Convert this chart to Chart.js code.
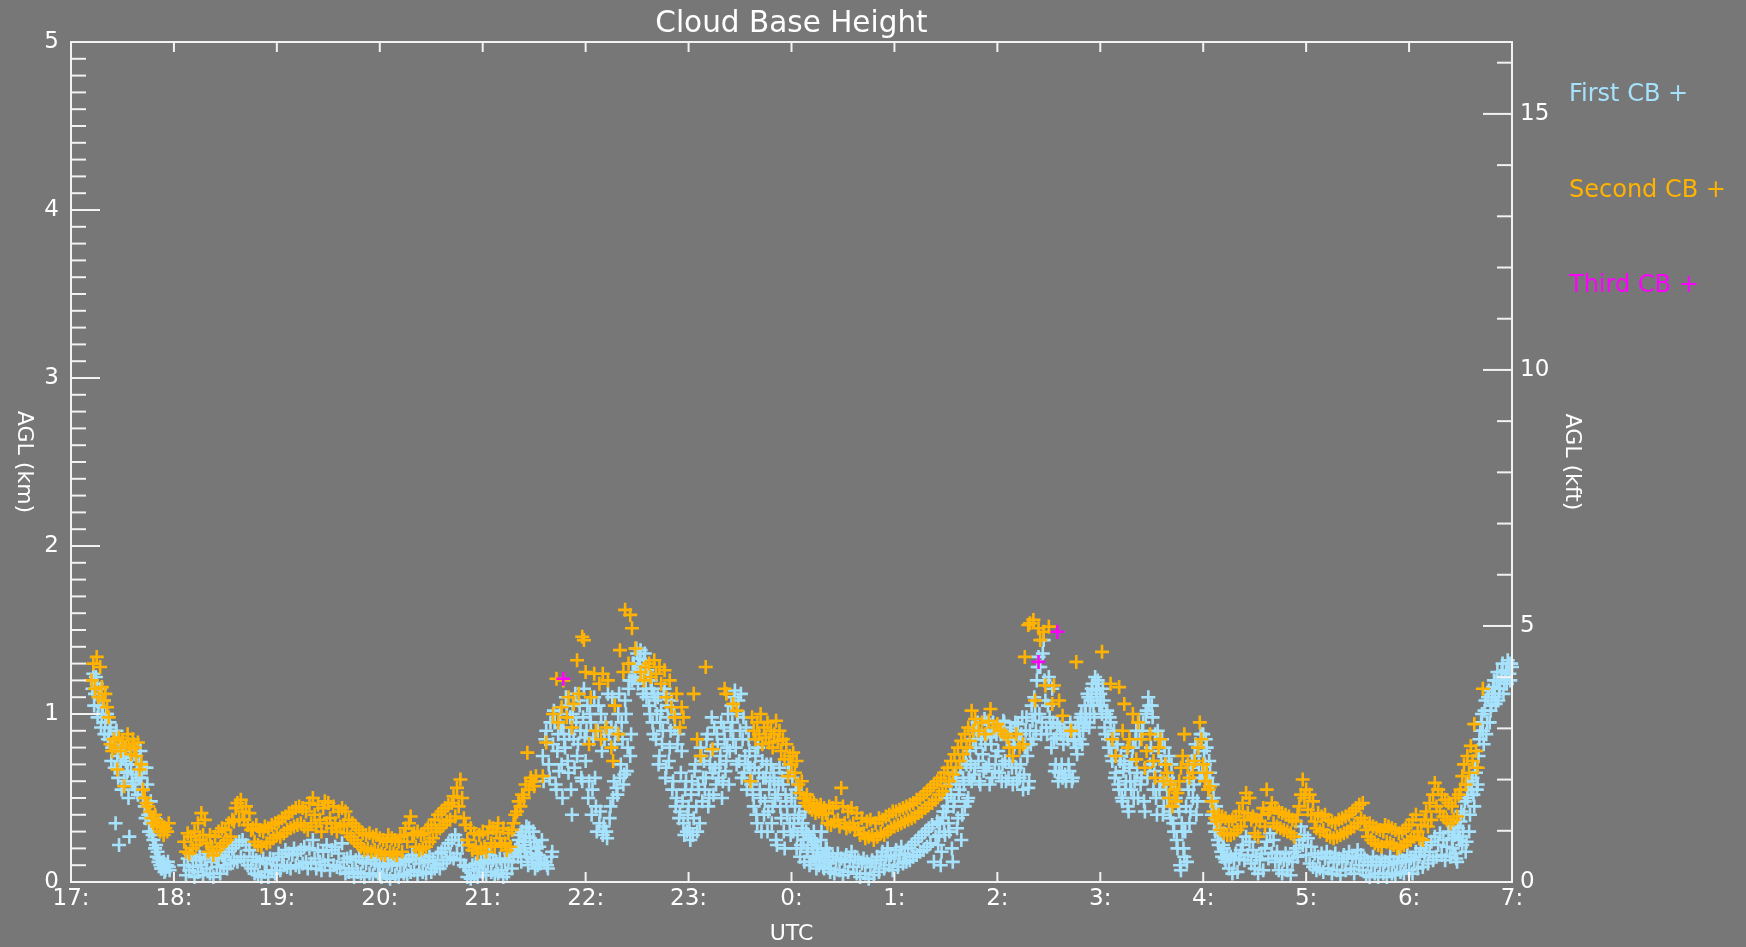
<!DOCTYPE html>
<html>
<head>
<meta charset="utf-8">
<title>Cloud Base Height</title>
<script src="https://cdn.jsdelivr.net/npm/chart.js@4.4.1/dist/chart.umd.min.js"></script>
<style>
    html, body { margin: 0; padding: 0; background: #777777; }
    canvas { display: block; }
</style>
</head>
<body>
<canvas id="cbh" width="1746" height="947"></canvas>
<script>
// -------------------------------------------
//  DATA
// -------------------------------------------

var _ = null

// one sample per minute, starting 17:00 UTC and ending 07:00 UTC
var startHour = 17

var hourLabels = ["17:","18:","19:","20:","21:","22:","23:","0:","1:","2:","3:","4:","5:","6:","7:"]
var kftLabels = [0, 5, 10, 15]

// first cloud base (km) on the minute, one line per hour
var firstCB = [
    _,_,_,_,_,_,_,_,_,_,_,_,1.2,1.24,1.12,1.18,1.05,1.15,1,1.08,.95,1,.88,.92,.8,.85,.35,.75,.22,.7,.78,.6,.72,.66,.27,.7,.58,.76,.64,.52,.7,.62,.5,.45,.68,.4,.35,.3,.25,.2,.15,.12,.1,.08,.12,.07,.1,.09,_,_,
    _,_,_,_,_,_,.1,.04,.14,.07,.16,.09,.03,.13,.06,.15,.1,.04,.14,.08,.17,.05,.12,.03,.15,.09,.14,.05,.16,.1,.15,.08,.18,.11,.2,.13,.22,.12,.24,.15,.25,.13,.22,.1,.19,.08,.15,.05,.13,.04,.12,.03,.14,.06,.11,.03,.14,.07,.13,.05,
    .1,.17,.07,.15,.1,.19,.09,.17,.08,.16,.2,.1,.17,.09,.19,.11,.21,.12,.08,.2,.11,.25,.14,.08,.19,.12,.07,.18,.1,.22,.13,.07,.19,.1,.21,.09,.17,.08,.23,.12,.05,.14,.06,.15,.08,.03,.13,.06,.15,.05,.12,.03,.11,.15,.05,.13,.04,.11,.14,.05,
    .1,.03,.09,.14,.04,.11,.02,.1,.13,.04,.11,.03,.1,.14,.05,.12,.04,.13,.06,.16,.07,.14,.04,.11,.16,.06,.13,.05,.12,.15,.06,.13,.08,.1,.17,.08,.18,.11,.2,.13,.23,.15,.25,.14,.28,.17,.25,.13,.22,.1,.09,.03,.07,.02,.1,.04,.11,.03,.08,.12,
    .06,.13,.04,.11,.16,.06,.13,.04,.12,.05,.14,.07,.03,.12,.05,.13,.17,.08,.15,.19,.2,.25,.18,.3,.22,.27,.15,.32,.2,.12,.24,.17,.1,.21,.14,.75,.12,.9,.08,.62,.15,.82,.95,.55,.88,1,.7,.92,.8,1.05,.65,.98,.4,.85,1.12,.75,1.08,.9,.6,1.15,
    .72,1.05,.6,.95,.55,1.1,.45,.9,.35,1,.28,.85,.3,1.12,.38,.92,.5,.82,.56,1,.62,.95,.58,1.08,.66,1.15,.75,1.2,1.3,1.25,1.36,1.28,1.38,1.22,1.32,1.15,1.26,1.05,1.2,.95,1.12,.85,1.1,.75,1.02,.9,1.15,.68,.98,.8,1.08,.6,.92,.5,.88,.42,.78,.35,.55,.3,
    .45,.25,.6,.38,.7,.3,.55,.8,.48,.72,.62,.88,.5,.78,.65,.92,.58,.82,.7,.95,.6,.85,.72,1,.78,1.05,.85,1.14,.7,1.08,.9,.62,.98,.75,.55,.85,.68,.6,.45,.75,.35,.65,.5,.72,.4,.62,.3,.55,.7,.45,.6,.25,.52,.68,.38,.58,.2,.48,.65,.35,
    .5,.3,.45,.2,.38,.15,.32,.25,.42,.18,.28,.12,.22,.3,.14,.2,.1,.25,.16,.08,.2,.12,.17,.08,.15,.05,.13,.17,.07,.14,.04,.12,.16,.06,.13,.18,.09,.15,.05,.13,.03,.11,.14,.05,.12,.02,.09,.13,.04,.11,.15,.06,.13,.18,.08,.15,.2,.1,.16,.07,
    .14,.19,.09,.16,.21,.11,.17,.12,.2,.13,.22,.15,.24,.16,.26,.18,.28,.19,.3,.21,.32,.23,.34,.12,.27,.36,.28,.1,.38,.3,.42,.45,.3,.52,.12,.48,.6,.38,.55,.25,.62,.45,.7,.5,.78,.6,.85,.68,.9,.72,.58,.88,.66,.82,.95,.7,.86,.62,.9,.75,
    .92,.65,.88,.7,.95,.6,.85,.72,.9,.58,.82,.68,.94,.62,.88,.55,.8,.98,.56,.9,1.05,.85,1,1.2,1.34,1.28,.95,1.44,1.08,.88,1.22,.92,1.15,.85,.7,.94,.65,.88,.62,.9,.6,.85,.66,.92,.62,.88,.8,.95,.85,1,.9,1.05,.95,1.1,1,1.15,1.05,1.22,1.1,1.18,
    1.12,1,1.08,.88,1.02,.8,.95,.72,.9,.65,.82,.55,.75,.48,.7,.6,.45,.68,.55,.8,.6,.9,.5,.85,.62,.95,.42,1.02,1.1,.7,1.05,.55,.88,.4,.78,.6,.85,.45,.7,.5,.75,.38,.6,.3,.5,.2,.42,.07,.3,.15,.45,.6,.35,.68,.5,.75,.4,.8,.62,.85,
    .88,.7,.8,.55,.65,.4,.5,.3,.38,.22,.28,.15,.2,.12,.16,.08,.15,.05,.13,.17,.06,.14,.19,.22,.13,.27,.16,.24,.11,.19,.08,.15,.05,.13,.17,.07,.2,.24,.14,.29,.17,.25,.12,.18,.07,.14,.05,.13,.17,.07,.14,.04,.12,.18,.2,.15,.25,.33,.22,.28,
    .16,.26,.11,.21,.09,.17,.07,.15,.08,.17,.06,.14,.18,.08,.15,.05,.12,.17,.07,.14,.04,.12,.16,.07,.14,.18,.08,.15,.05,.14,.19,.1,.16,.07,.14,.04,.12,.03,.1,.15,.05,.12,.03,.1,.14,.05,.12,.03,.1,.15,.05,.12,.04,.11,.15,.06,.13,.05,.12,.16,
    .07,.14,.05,.13,.18,.08,.15,.2,.09,.16,.22,.11,.18,.24,.13,.27,.15,.22,.29,.16,.25,.13,.21,.3,.15,.26,.33,.17,.12,.27,.36,.22,.4,.18,.5,.3,.55,.62,.45,.65,.58,.85,.95,.9,1.02,.88,1.1,.95,1.05,1.16,1.1,1.2,1.08,1.15,1.25,1.12,1.22,1.18,1.3,1.2,1.28
]

// extra first cloud base readings half a minute later, where the base is broken
var firstCBHalf = [
    _,_,_,_,_,_,_,_,_,_,_,_,1.15,1.05,1.22,.98,1.1,.92,1.04,.88,1,.85,.95,.72,.82,.68,.9,.62,.8,.55,.74,.8,.65,.5,.75,.6,.82,.55,.7,.62,.78,.55,.68,.38,.58,.3,.48,.28,.38,.22,.18,.14,.08,.11,.06,.09,.12,.07,_,_,
    _,_,_,_,_,_,_,_,_,_,_,_,_,_,_,_,_,_,_,_,_,_,_,_,_,_,_,_,_,_,_,_,_,_,_,_,_,_,_,_,_,_,_,_,_,_,_,_,_,_,_,_,_,_,_,_,_,_,_,_,
    _,_,_,_,_,_,_,_,_,_,_,_,_,_,_,_,_,_,_,_,_,_,_,_,_,_,_,_,_,_,_,_,_,_,_,_,_,_,_,_,_,_,_,_,_,_,_,_,_,_,_,_,_,_,_,_,_,_,_,_,
    _,_,_,_,_,_,_,_,_,_,_,_,_,_,_,_,_,_,_,_,_,_,_,_,_,_,_,_,_,_,_,_,_,_,_,_,_,_,_,_,_,_,_,_,_,_,_,_,_,_,_,_,_,_,_,_,_,_,_,_,
    _,_,_,_,_,_,_,_,_,_,_,_,_,_,_,_,_,_,_,_,.15,.28,.12,.24,.18,.33,.1,.26,.14,.3,.08,.2,.16,.11,.25,.6,.85,.1,.7,.95,.18,1.02,.58,.78,.66,.92,.5,.85,1.1,.72,.88,.55,1,.68,.95,.82,1.05,.62,.98,.86,
    .9,.5,1,.4,.85,.62,.3,1.05,.42,.78,.33,.95,.26,.88,.45,1.1,.6,.9,.52,1.12,.7,.85,.64,1,.8,1.2,.88,1.3,1.22,1.39,1.18,1.33,1.26,1.12,1.36,1.1,1.24,1,1.15,.88,1.08,1,.7,.95,.82,1.12,.62,1.05,.72,.9,.55,1,.45,.82,.38,.65,.48,.28,.6,.4,
    .32,.52,.28,.66,.45,.58,.35,.75,.62,.55,.85,.45,.7,.98,.52,.68,.88,.62,.75,.5,.92,.66,.8,.58,.9,.95,1.1,.8,1,.72,1.12,.85,.65,.92,.7,.78,.58,.52,.68,.4,.8,.55,.3,.62,.48,.7,.42,.6,.35,.65,.5,.22,.58,.45,.62,.3,.52,.4,.7,.28,
    .62,.35,.55,.28,.4,.22,.35,.12,.3,.2,.1,.26,.15,.24,.08,.18,.13,.3,.09,.15,.2,.11,.06,_,_,_,_,_,_,_,_,_,_,_,_,_,_,_,_,_,_,_,_,_,_,_,_,_,_,_,_,_,_,_,_,_,_,_,_,_,
    _,_,_,_,_,_,_,_,_,_,_,_,_,_,_,_,_,_,_,_,_,_,_,_,_,.22,.35,.18,.42,.28,.5,.35,.58,.2,.45,.65,.32,.52,.68,.4,.58,.72,.48,.62,.7,.92,.64,.8,.95,.6,.85,.76,.97,.68,.9,.58,.82,.95,.66,.88,
    .78,.9,.6,.96,.72,.85,.62,.92,.68,.8,.95,.6,.85,.7,.98,.64,.9,.75,.6,.82,.96,1.1,.9,1.28,1,.88,1.36,1.2,.92,1.05,.98,.8,.95,.66,.86,.6,.92,.7,.82,.64,.88,.7,.95,.6,.84,.92,.76,.9,.98,.82,.94,1,1.12,.92,1.08,1.18,.98,1.14,1.2,1.05,
    1.05,1.15,.92,1,.85,.98,.75,.88,.62,.82,.58,.72,.5,.66,.55,.78,.42,.6,.72,.5,.85,.65,.95,.58,.9,.48,1,.62,1.05,.8,.98,.66,.5,.9,.55,.72,.4,.8,.58,.62,.42,.7,.35,.55,.25,.45,.1,.35,.2,.3,.12,.55,.42,.72,.58,.82,.48,.7,.88,.65,
    .78,.85,.62,.72,.48,.58,.35,.45,.25,.32,.18,.22,.14,_,_,_,_,_,_,_,_,_,_,_,_,_,_,_,_,_,_,_,_,_,_,_,_,_,_,_,_,_,_,_,_,_,_,_,_,_,_,_,_,_,_,_,_,_,_,_,
    _,_,_,_,_,_,_,_,_,_,_,_,_,_,_,_,_,_,_,_,_,_,_,_,_,_,_,_,_,_,_,_,_,_,_,_,_,_,_,_,_,_,_,_,_,_,_,_,_,_,_,_,_,_,_,_,_,_,_,_,
    _,_,_,_,_,_,_,_,_,_,_,_,_,_,_,_,_,_,_,_,_,_,_,_,_,.2,.28,.14,.32,.25,.42,.3,.48,.24,.58,.4,.6,.52,.68,.55,.75,.9,1,.82,1.08,.95,1.14,1.02,1.12,1.2,1.06,1.25,1.15,1.22,1.3,1.18,1.26,1.32,1.24,1.3
]

// second cloud base (km) on the minute, one line per hour
var secondCB = [
    _,_,_,_,_,_,_,_,_,_,_,_,1.2,1.3,1.15,1.34,1.1,1.28,1.16,1.08,1.12,1.04,.98,.82,.78,.85,.8,.67,.86,.78,.84,.57,.8,.88,.82,.76,.85,.8,.75,.83,.67,.7,.55,.5,.47,.45,.42,.38,.35,.4,.33,.36,.3,.34,.28,.32,.3,.35,_,_,
    _,_,_,_,_,_,.24,.18,.29,.17,.27,.2,.3,.22,.35,.25,.41,.28,.37,.23,.18,.28,.21,.16,.27,.19,.3,.21,.32,.23,.31,.25,.35,.27,.37,.36,.44,.47,.37,.49,.42,.37,.45,.34,.41,.31,.32,.24,.34,.22,.31,.21,.3,.33,.23,.32,.24,.34,.26,.35,
    .28,.36,.27,.38,.29,.39,.31,.41,.32,.42,.33,.44,.34,.45,.35,.44,.33,.42,.31,.47,.35,.5,.4,.33,.46,.37,.3,.44,.48,.35,.47,.38,.32,.45,.35,.3,.42,.33,.44,.34,.42,.29,.37,.27,.35,.25,.33,.23,.31,.21,.29,.19,.28,.2,.29,.18,.27,.19,.28,.18,
    .26,.17,.25,.16,.24,.28,.18,.26,.17,.25,.16,.24,.27,.18,.28,.32,.24,.35,.39,.28,.29,.21,.3,.19,.28,.2,.29,.21,.32,.24,.34,.26,.37,.3,.4,.32,.42,.34,.44,.36,.46,.37,.47,.51,.39,.56,.45,.61,.5,.38,.34,.25,.22,.32,.19,.29,.21,.17,.28,.2,
    .3,.21,.18,.29,.33,.23,.32,.21,.3,.35,.26,.22,.32,.23,.19,.29,.21,.31,.35,.4,.42,.48,.45,.52,.5,.58,.77,.55,.62,.6,.57,.63,_,_,_,.63,_,.83,_,_,_,1,_,1.21,.95,_,1.04,1.2,_,.98,1.1,_,.92,1.06,_,1.32,1.12,_,1.46,1.44,
    1.25,_,.82,1.1,_,1.24,.9,_,1.18,.85,1.24,_,.92,1.2,_,.8,.72,1.05,_,.88,1.38,_,1.25,1.62,_,1.3,1.59,1.51,_,1.39,_,_,1.25,_,1.2,1.28,_,1.3,1.22,_,1.32,1.24,_,1.28,1.18,_,1.26,1.1,_,1.2,1.04,_,.98,1.12,_,.92,1.04,.98,_,_,
    _,_,_,1.12,_,.85,_,.75,_,_,1.28,_,_,_,.79,_,_,_,_,_,_,1.15,1.12,_,_,_,1.06,_,1.02,_,_,_,_,_,_,_,.6,.98,.9,.85,.95,.88,1,.82,.92,.86,.95,.83,.9,.8,.88,.96,.84,.9,.78,.85,.73,.82,.63,.75,
    .7,.77,.65,.72,.58,.53,.6,.5,.47,.52,.45,.49,.43,.47,.41,.45,.42,.46,.4,.44,.41,.35,.45,.34,.44,.36,.47,.37,.33,.56,.45,.35,.32,.42,.33,.44,.35,.31,.41,.32,.28,.38,.29,.26,.36,.27,.37,.28,.25,.35,.27,.38,.29,.37,.28,.39,.3,.4,.32,.42,
    .33,.42,.34,.43,.35,.44,.36,.45,.37,.46,.38,.47,.39,.49,.41,.5,.42,.52,.44,.54,.46,.56,.47,.58,.49,.6,.52,.62,.54,.65,.57,.68,.6,.72,.64,.76,.68,.8,.72,.84,.76,.88,.8,.92,.84,1.02,.9,.97,_,.9,_,.95,_,.88,_,.96,1.03,_,.92,_,
    .94,_,.9,_,.88,_,.86,.8,_,.75,_,.88,_,.8,_,.82,1.34,_,1.53,1.54,_,1.56,1.08,_,1.51,1.44,_,1.49,1.17,_,1.52,_,1.06,1.17,_,_,1.08,_,.99,_,_,_,_,.9,_,_,1.31,_,_,_,_,_,_,_,_,_,_,_,_,_,
    _,1.37,_,_,_,_,1.18,.85,_,.75,_,1.16,_,.9,1.06,_,.8,.85,_,1,_,.73,.95,_,.85,_,.68,.78,_,.88,_,.72,.62,_,.8,.85,_,.6,.7,.65,.5,.58,.45,.55,.48,.53,.6,.68,.75,.88,_,.7,.62,_,.65,.72,_,.8,.95,.85,
    .7,.6,.65,.55,.57,.48,.42,.38,.36,.4,.31,.39,.29,.38,.28,.36,.28,.37,.29,.39,.31,.42,.33,.47,.37,.53,.41,.5,.37,.39,.29,.37,.27,.36,.4,.44,.33,.55,.41,.43,.47,.35,.44,.33,.42,.32,.41,.31,.4,.3,.39,.29,.37,.27,.36,.4,.45,.52,.61,.5,
    .55,.43,.52,.4,.48,.36,.32,.41,.3,.39,.31,.4,.28,.37,.27,.36,.26,.35,.27,.37,.28,.38,.29,.39,.3,.4,.32,.42,.33,.44,.35,.46,.38,.47,.36,.31,.27,.35,.25,.33,.23,.32,.22,.31,.21,.3,.34,.24,.33,.23,.32,.22,.31,.2,.29,.21,.3,.22,.32,.24,
    .34,.25,.37,.27,.4,.3,.26,.34,.25,.37,.42,.33,.47,.37,.52,.59,.45,.55,.42,.52,.39,.49,.37,.47,.35,.45,.37,.5,.39,.52,.55,.63,.7,.58,.75,.65,.81,.72,.94,.78,.68,_,_,1.15,_,_,_,_,_,_,_,_,_,_,_,_,_,_,_,_,_
]

// third cloud base: only a few hits (minutes after 17:00, km)
var thirdMinutes = [287, 564, 575]
var thirdCB = [1.21, 1.31, 1.49]

// -------------------------------------------
//  STYLE
// -------------------------------------------

var KM_PER_KFT = 0.3048
var fontFace = "'DejaVu Sans', sans-serif"
var textColor = "#ffffff"
var axisColor = "#f2f2f2"
var bgColor = "#777777"

function minuteSeries(values, offset) {
    var pts = []
    for (var i = 0; i < values.length; i++) {
        if (values[i] === null) continue
        pts.push({ x: startHour + (i + offset) / 60, y: values[i] })
    }
    return pts
}

function hitSeries(minutes, values) {
    var pts = []
    for (var i = 0; i < minutes.length; i++) {
        pts.push({ x: startHour + minutes[i] / 60, y: values[i] })
    }
    return pts
}

function line(ctx, x1, y1, x2, y2) {
    ctx.beginPath()
    ctx.moveTo(x1, y1)
    ctx.lineTo(x2, y2)
    ctx.stroke()
}

// -------------------------------------------
//  FRAME, INWARD TICKS, SIDE TITLES, KEY
// -------------------------------------------

var framePlugin = {
    id: "frame",
    beforeDraw: function(chart) {
        var ctx = chart.ctx
        ctx.save()
        ctx.fillStyle = bgColor
        ctx.fillRect(0, 0, chart.width, chart.height)
        ctx.restore()
    },
    afterDatasetsDraw: function(chart) {
        var ctx = chart.ctx
        var a = chart.chartArea
        var sx = chart.scales.x, sy = chart.scales.y, sk = chart.scales.y2
        ctx.save()
        ctx.strokeStyle = axisColor
        ctx.lineWidth = 2
        ctx.strokeRect(a.left, a.top, a.right - a.left, a.bottom - a.top)

        sx.ticks.forEach(function(t) {
            var x = sx.getPixelForValue(t.value)
            line(ctx, x, a.bottom, x, a.bottom - 10)
            line(ctx, x, a.top, x, a.top + 10)
        })
        sy.ticks.forEach(function(t) {
            var y = sy.getPixelForValue(t.value)
            var len = Number.isInteger(t.value) ? 29 : 15
            line(ctx, a.left, y, a.left + len, y)
        })
        sk.ticks.forEach(function(t) {
            var y = sk.getPixelForValue(t.value)
            var len = kftLabels.indexOf(t.value) >= 0 ? 29 : 15
            line(ctx, a.right, y, a.right - len, y)
        })
        ctx.restore()
    },
    afterDraw: function(chart) {
        var ctx = chart.ctx
        var a = chart.chartArea
        var midY = (a.top + a.bottom) / 2
        ctx.save()
        ctx.fillStyle = textColor
        ctx.font = "22px " + fontFace
        ctx.textAlign = "center"
        ctx.textBaseline = "middle"

        // both side titles read downwards
        ctx.save()
        ctx.translate(24, midY)
        ctx.rotate(Math.PI / 2)
        ctx.fillText("AGL (km)", 0, 0)
        ctx.restore()

        ctx.save()
        ctx.translate(a.right + 60, midY)
        ctx.rotate(Math.PI / 2)
        ctx.fillText("AGL (kft)", 0, 0)
        ctx.restore()

        // key: one coloured line per cloud base
        ctx.font = "24px " + fontFace
        ctx.textAlign = "left"
        var keyY = [95, 191, 286]
        chart.data.datasets.forEach(function(ds, i) {
            ctx.fillStyle = ds.borderColor
            ctx.fillText(ds.label + " +", a.right + 57, keyY[i])
        })
        ctx.restore()
    }
}

// -------------------------------------------
//  CHART
// -------------------------------------------

var tickFont = { family: fontFace, size: 23 }

new Chart(document.getElementById("cbh"), {
    type: "scatter",
    data: {
        datasets: [
            { label: "First CB", data: minuteSeries(firstCB, 0).concat(minuteSeries(firstCBHalf, 0.5)), borderColor: "#a6e2fc", backgroundColor: "#a6e2fc", order: 2 },
            { label: "Second CB", data: minuteSeries(secondCB, 0), borderColor: "#ffb300", backgroundColor: "#ffb300", order: 1 },
            { label: "Third CB", data: hitSeries(thirdMinutes, thirdCB), borderColor: "#ff00ff", backgroundColor: "#ff00ff", order: 0 }
        ]
    },
    options: {
        responsive: false,
        devicePixelRatio: 1,
        animation: false,
        events: [],
        layout: { padding: 0 },
        datasets: {
            scatter: { clip: false }
        },
        elements: {
            point: { pointStyle: "cross", radius: 7, borderWidth: 2.6 }
        },
        plugins: {
            legend: { display: false },
            tooltip: { enabled: false },
            title: {
                display: true,
                fullSize: false,
                text: "Cloud Base Height",
                color: textColor,
                font: { family: fontFace, size: 29.5, weight: "normal" },
                padding: { top: 6.6, bottom: 0 }
            }
        },
        scales: {
            x: {
                type: "linear",
                position: "bottom",
                min: startHour,
                max: startHour + 14,
                grid: { display: false, drawTicks: false },
                border: { display: false },
                ticks: {
                    stepSize: 1,
                    autoSkip: false,
                    maxRotation: 0,
                    color: textColor,
                    font: tickFont,
                    padding: 3,
                    callback: function(v, i) { return hourLabels[i] }
                },
                title: { display: true, text: "UTC", color: textColor, font: { family: fontFace, size: 22 }, padding: 0 },
                afterFit: function(s) { s.height = 65 }
            },
            y: {
                type: "linear",
                position: "left",
                min: 0,
                max: 5,
                grid: { display: false, drawTicks: false },
                border: { display: false },
                ticks: {
                    stepSize: 0.1,
                    autoSkip: false,
                    color: textColor,
                    font: tickFont,
                    padding: 12,
                    callback: function(v) { return Number.isInteger(v) ? String(v) : "" }
                },
                afterFit: function(s) { s.width = 71 }
            },
            y2: {
                type: "linear",
                position: "right",
                min: 0,
                max: 5 / KM_PER_KFT,
                grid: { display: false, drawTicks: false },
                border: { display: false },
                ticks: {
                    stepSize: 1,
                    includeBounds: false,
                    autoSkip: false,
                    color: textColor,
                    font: tickFont,
                    padding: 8,
                    callback: function(v) { return kftLabels.indexOf(v) >= 0 ? String(v) : "" }
                },
                afterFit: function(s) { s.width = 234 }
            }
        }
    },
    plugins: [framePlugin]
})
</script>
</body>
</html>
